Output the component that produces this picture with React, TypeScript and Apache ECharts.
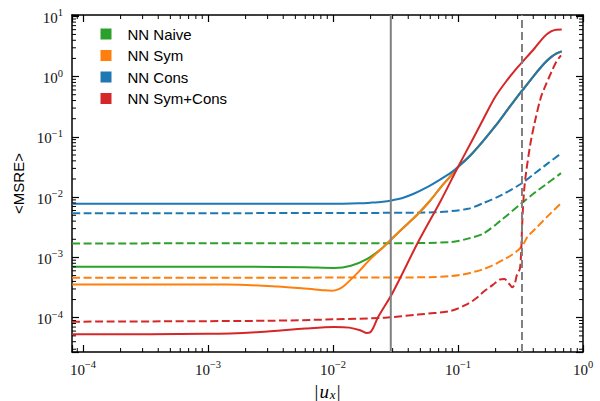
import React, { useEffect, useRef } from "react";
import * as echarts from "echarts";

// ---- axis ranges ----
const X_MIN = 8.17e-5;
const X_MAX = 1;
const Y_MIN = 2.7e-5;
const Y_MAX = 10.5;

// ---- legend / series names ----
const legendNames = ["NN Naive", "NN Sym", "NN Cons", "NN Sym+Cons"];

// ---- shared high-|u_x| branch (Naive, Sym and Cons coincide there) ----
const upperBranch: [number, number][] = [
  [0.1, 0.0316], [0.126, 0.0495], [0.158, 0.0841], [0.2, 0.153], [0.251, 0.288],
  [0.316, 0.543], [0.33, 0.6], [0.41, 1.07], [0.49, 1.65], [0.555, 2.1], [0.61, 2.4],
  [0.676, 2.62],
];

// ---- solid curves [|u_x|, <MSRE>] ----
const naiveSolid: [number, number][] = [
  [8.2e-5, 7.0e-4], [2e-3, 7.0e-4], [6e-3, 6.85e-4], [0.0102, 6.7e-4], [0.0139, 7.3e-4],
  [0.0188, 9.5e-4], [0.0244, 1.39e-3], [0.03, 2.1e-3], [0.04, 3.7e-3], [0.048, 5.3e-3],
  [0.06, 8.8e-3], [0.073, 0.0147], [0.085, 0.021], ...upperBranch,
];
const symSolid: [number, number][] = [
  [8.2e-5, 3.55e-4], [1.4e-3, 3.55e-4], [3.6e-3, 3.3e-4], [6e-3, 3.05e-4], [8.5e-3, 2.85e-4],
  [0.0098, 2.8e-4], [0.011, 2.95e-4], [0.0123, 3.4e-4], [0.0158, 5.6e-4], [0.02, 9.5e-4],
  [0.025, 1.45e-3], [0.03, 2.1e-3], [0.04, 3.7e-3], [0.048, 5.3e-3], [0.06, 8.8e-3],
  [0.073, 0.0147], [0.085, 0.021], ...upperBranch,
];
const consSolid: [number, number][] = [
  [8.2e-5, 7.8e-3], [1e-3, 7.8e-3], [6e-3, 7.75e-3], [0.012, 7.8e-3], [0.016, 7.9e-3],
  [0.02, 8.1e-3], [0.025, 8.4e-3], [0.03, 8.9e-3], [0.0355, 9.6e-3], [0.0447, 0.0115],
  [0.0562, 0.0145], [0.0708, 0.0192], [0.0891, 0.026], ...upperBranch,
];
const symConsSolid: [number, number][] = [
  [8.2e-5, 5.3e-5], [1e-3, 5.4e-5], [2.6e-3, 5.8e-5], [6e-3, 6.6e-5], [0.0102, 7.0e-5],
  [0.0135, 6.85e-5], [0.0165, 6.2e-5], [0.0185, 5.6e-5], [0.0198, 5.7e-5], [0.021, 6.8e-5],
  [0.0228, 1.0e-4], [0.03, 2.6e-4], [0.048, 1.8e-3], [0.073, 8.8e-3], [0.1, 0.0316],
  [0.13, 0.088], [0.16, 0.2], [0.2, 0.47], [0.25, 0.9], [0.29, 1.32], [0.33, 1.78],
  [0.41, 2.95], [0.49, 4.6], [0.555, 5.6], [0.61, 6.0], [0.676, 6.05],
];

// ---- dashed curves ----
const naiveDashed: [number, number][] = [
  [8.2e-5, 1.71e-3], [0.03, 1.72e-3], [0.088, 1.8e-3], [0.12, 2.05e-3], [0.16, 2.5e-3],
  [0.22, 4.1e-3], [0.32, 7.8e-3], [0.41, 0.0118], [0.5, 0.016], [0.667, 0.025],
];
const symDashed: [number, number][] = [
  [8.2e-5, 4.6e-4], [0.03, 4.65e-4], [0.088, 4.9e-4], [0.16, 6.4e-4], [0.25, 1.0e-3],
  [0.3, 1.3e-3], [0.33, 1.6e-3], [0.36, 2.2e-3], [0.41, 2.9e-3], [0.52, 4.8e-3],
  [0.667, 7.9e-3],
];
const consDashed: [number, number][] = [
  [8.2e-5, 5.4e-3], [0.01, 5.45e-3], [0.03, 5.5e-3], [0.064, 5.6e-3], [0.12, 6.4e-3],
  [0.16, 8.0e-3], [0.22, 0.0107], [0.32, 0.0167], [0.41, 0.0247], [0.52, 0.036],
  [0.667, 0.053],
];
const symConsDashed: [number, number][] = [
  [8.2e-5, 8.6e-5], [3e-3, 8.9e-5], [0.0102, 9.4e-5], [0.026, 1.0e-4], [0.048, 1.13e-4],
  [0.088, 1.3e-4], [0.12, 1.7e-4], [0.14, 2.1e-4], [0.16, 2.7e-4], [0.19, 3.5e-4],
  [0.215, 4.3e-4], [0.235, 4.4e-4], [0.255, 3.7e-4], [0.272, 3.2e-4], [0.285, 3.7e-4],
  [0.295, 5.0e-4], [0.305, 5.8e-4], [0.313, 6.5e-4], [0.32, 1.2e-3], [0.327, 4e-3],
  [0.337, 0.012], [0.35, 0.025], [0.38, 0.078], [0.41, 0.17], [0.46, 0.45], [0.5, 0.7],
  [0.555, 1.15], [0.61, 1.75], [0.667, 2.25],
];

// ---- reference lines (|u_x| positions) ----
const vSolid = 0.029;
const vDashed = 0.325;

// ---- minor tick positions ----
const minorMult = [2, 3, 4, 5, 6, 7, 8, 9];
const xDecades = [-5, -4, -3, -2, -1];
const yDecades = [-5, -4, -3, -2, -1, 0, 1];

const GREEN = "#2ca02c";
const ORANGE = "#ff7f0e";
const BLUE = "#1f77b4";
const RED = "#d62728";
const GRAY = "#808080";

const fmtPow = (v: number) => {
  const l = Math.log10(v);
  const e = Math.round(l);
  if (Math.abs(l - e) > 1e-6) return "";
  const s = e < 0 ? "\u2212" + -e : String(e);
  return `{b|10}{s|${s}}`;
};

const tickRich = {
  b: { fontSize: 15, fontFamily: "Liberation Serif", color: "#111", lineHeight: 18, verticalAlign: "bottom" },
  s: { fontSize: 10.5, fontFamily: "Liberation Serif", color: "#111", lineHeight: 11, verticalAlign: "top" },
};

export default function App() {
  const ref = useRef<HTMLDivElement>(null);
  useEffect(() => {
    if (!ref.current) return;
    const chart = echarts.init(ref.current, undefined, { renderer: "svg" });

    const xMinor: number[][] = [];
    xDecades.forEach((d) =>
      minorMult.forEach((m) => {
        const v = m * Math.pow(10, d);
        if (v > X_MIN && v < X_MAX) xMinor.push([v, Y_MIN]);
      })
    );
    const yMinor: number[][] = [];
    yDecades.forEach((d) =>
      minorMult.forEach((m) => {
        const v = m * Math.pow(10, d);
        if (v > Y_MIN && v < Y_MAX) yMinor.push([X_MIN, v]);
      })
    );

    const lineSeries = (name: string, data: [number, number][], color: string, dashed: boolean, z: number) => ({
      type: "line",
      name,
      data,
      showSymbol: false,
      symbol: "none",
      smooth: 0.3,
      z,
      color,
      lineStyle: { color, width: 2, type: dashed ? [8, 3.5] : "solid", cap: "butt", join: "round" },
      emphasis: { disabled: true },
    });

    const vLine = (name: string, u: number, dashed: boolean) => ({
      type: "line",
      name,
      data: [[u, Y_MIN], [u, Y_MAX]],
      showSymbol: false,
      symbol: "none",
      z: 5,
      color: GRAY,
      lineStyle: { color: GRAY, width: 2, type: dashed ? [8, 4] : "solid", cap: "butt" },
      emphasis: { disabled: true },
      silent: true,
    });

    const axisCommon = {
      type: "log",
      logBase: 10,
      splitLine: { show: false },
      axisLine: { show: true, onZero: false, lineStyle: { color: "#000", width: 1.5 } },
      axisTick: { show: true, inside: true, length: 7, lineStyle: { color: "#000", width: 1.2 } },
    };

    chart.setOption({
      animation: false,
      grid: { left: 72, top: 15, width: 511, height: 337, containLabel: false, outerBoundsMode: "none" },
      legend: {
        data: legendNames,
        orient: "vertical",
        left: 95.5,
        top: 21.5,
        icon: "rect",
        itemWidth: 11,
        itemHeight: 11,
        itemGap: 6.5,
        selectedMode: false,
        textStyle: { fontFamily: "Liberation Sans", fontSize: 15, color: "#000", lineHeight: 15, padding: [0, 0, 0, 11] },
      },
      xAxis: [
        {
          ...axisCommon,
          position: "bottom",
          min: X_MIN,
          max: X_MAX,
          axisLabel: { show: true, margin: 7, formatter: fmtPow, rich: tickRich },
          name: "{a||}{u|u}{x|x}{a||}",
          nameLocation: "middle",
          nameGap: 27,
          nameTextStyle: {
            rich: {
              a: { fontFamily: "Liberation Serif", fontSize: 19, color: "#000", lineHeight: 20 },
              u: { fontFamily: "Liberation Serif", fontStyle: "italic", fontSize: 19, color: "#000", lineHeight: 20, padding: [0, 1, 0, 1] },
              x: { fontFamily: "Liberation Serif", fontStyle: "italic", fontSize: 13, color: "#000", lineHeight: 20, verticalAlign: "bottom", padding: [0, 1, 0, 0] },
            },
          },
        },
        {
          ...axisCommon,
          position: "top",
          min: X_MIN,
          max: X_MAX,
          axisLabel: { show: false },
        },
      ],
      yAxis: [
        {
          ...axisCommon,
          position: "left",
          min: Y_MIN,
          max: Y_MAX,
          axisLabel: { show: true, margin: 9, formatter: fmtPow, rich: tickRich },
          name: "<MSRE>",
          nameLocation: "middle",
          nameGap: 45,
          nameRotate: 90,
          nameTextStyle: { fontFamily: "Liberation Sans", fontSize: 15, color: "#000" },
        },
        {
          ...axisCommon,
          position: "right",
          min: Y_MIN,
          max: Y_MAX,
          axisLabel: { show: false },
        },
      ],
      series: [
        lineSeries("NN Naive (dashed)", naiveDashed, GREEN, true, 2),
        lineSeries("NN Sym (dashed)", symDashed, ORANGE, true, 2),
        lineSeries("NN Cons (dashed)", consDashed, BLUE, true, 2),
        lineSeries("NN Sym+Cons (dashed)", symConsDashed, RED, true, 2),
        lineSeries("NN Naive", naiveSolid, GREEN, false, 3),
        lineSeries("NN Sym", symSolid, ORANGE, false, 3),
        lineSeries("NN Cons", consSolid, BLUE, false, 3),
        lineSeries("NN Sym+Cons", symConsSolid, RED, false, 3),
        vLine("|u_x| threshold (solid)", vSolid, false),
        vLine("|u_x| threshold (dashed)", vDashed, true),
        {
          type: "custom",
          name: "x minor ticks",
          data: xMinor,
          silent: true,
          z: 6,
          renderItem: (_p: any, api: any) => {
            const v = api.value(0);
            const b = api.coord([v, Y_MIN]);
            const t = api.coord([v, Y_MAX]);
            const st = { stroke: "#000", lineWidth: 1 };
            return {
              type: "group",
              children: [
                { type: "line", shape: { x1: b[0], y1: b[1], x2: b[0], y2: b[1] - 4 }, style: st },
                { type: "line", shape: { x1: t[0], y1: t[1], x2: t[0], y2: t[1] + 4 }, style: st },
              ],
            };
          },
        },
        {
          type: "custom",
          name: "y minor ticks",
          data: yMinor,
          silent: true,
          z: 6,
          renderItem: (_p: any, api: any) => {
            const v = api.value(1);
            const l = api.coord([X_MIN, v]);
            const r = api.coord([X_MAX, v]);
            const st = { stroke: "#000", lineWidth: 1 };
            return {
              type: "group",
              children: [
                { type: "line", shape: { x1: l[0], y1: l[1], x2: l[0] + 4, y2: l[1] }, style: st },
                { type: "line", shape: { x1: r[0], y1: r[1], x2: r[0] - 4, y2: r[1] }, style: st },
              ],
            };
          },
        },
      ],
    });
    return () => chart.dispose();
  }, []);
  return <div ref={ref} style={{ width: 600, height: 401, position: "absolute", left: 0, top: 0 }} />;
}
